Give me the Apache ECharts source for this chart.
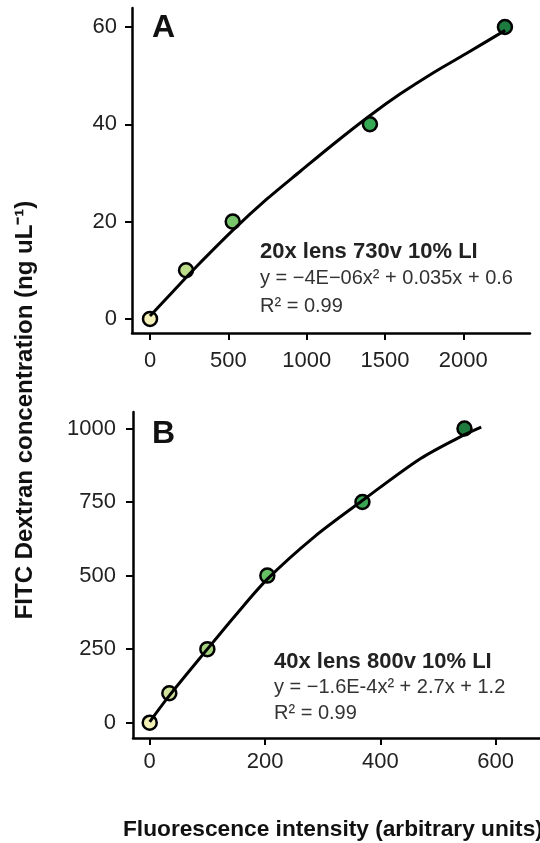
<!DOCTYPE html>
<html>
<head>
<meta charset="utf-8">
<script src="https://cdn.jsdelivr.net/npm/echarts@6/dist/echarts.min.js"></script>
<style>html,body{margin:0;padding:0;background:#fff}#c{width:540px;height:843px}</style>
</head>
<body>
<div id="c"></div>
<script>
// Panel A data
const aX = [0, 230, 528, 1404, 2266];
const aY = [0, 10, 20, 40, 60];
const aCurveX = [0, 230, 319, 528, 745, 958, 1170, 1405, 1596, 1809, 2022, 2267];
const aCurveY = [0.6, 8.5, 11.5, 18.2, 24.6, 30.3, 35.9, 41.8, 46.2, 50.6, 54.6, 59.3];
const aXTicks = [0, 500, 1000, 1500, 2000];
const aYTicks = [0, 20, 40, 60];
// Panel B data
const bX = [0, 34, 100, 204, 369, 546];
const bY = [0, 100, 250, 500, 750, 1000];
const bCurveX = [0, 34, 100, 150, 204, 285, 369, 470, 545, 575];
const bCurveY = [3, 92, 250, 368, 488, 631, 755, 898, 978, 1005];
const bXTicks = [0, 200, 400, 600];
const bYTicks = [0, 250, 500, 750, 1000];
// point fill colours
const aColors = ['#f5f0b8', '#bcdc8a', '#78c56c', '#35a853', '#1e7b40'];
const bColors = ['#f3f0b5', '#d0e29a', '#a6d17e', '#66c064', '#3aa552', '#1f7a3e'];

const FONT = '"Liberation Sans", Arial, sans-serif';
const chart = echarts.init(document.getElementById('c'), null, {renderer: 'canvas'});

function axisCommon(ticks, margin) {
  return {
    type: 'value',
    splitLine: {show: false},
    axisLine: {show: true, onZero: false, lineStyle: {color: '#000', width: 2.5}},
    axisTick: {show: true, inside: false, length: 7, lineStyle: {color: '#000', width: 2}, customValues: ticks},
    axisLabel: {color: '#222', fontSize: 22, fontFamily: FONT, margin: margin, customValues: ticks,
      formatter: v => String(v)}
  };
}

const option = {
  animation: false,
  grid: [
    {left: 132, top: 8, width: 398, height: 325},
    {left: 133, top: 412, width: 420, height: 326}
  ],
  xAxis: [
    Object.assign(axisCommon(aXTicks, 17), {gridIndex: 0, min: -115, max: 2426}),
    Object.assign(axisCommon(bXTicks, 13), {gridIndex: 1, min: -29, max: 677})
  ],
  yAxis: [
    Object.assign(axisCommon(aYTicks, 15), {gridIndex: 0, min: -2.9, max: 63.9}),
    Object.assign(axisCommon(bYTicks, 17), {gridIndex: 1, min: -52, max: 1056})
  ],
  series: [
    {
      type: 'scatter', xAxisIndex: 0, yAxisIndex: 0, symbolSize: 14, z: 2,
      data: aX.map((x, i) => ({value: [x, aY[i]], itemStyle: {color: aColors[i]}})),
      itemStyle: {borderColor: '#000', borderWidth: 2.5, opacity: 1}
    },
    {
      type: 'line', xAxisIndex: 0, yAxisIndex: 0, smooth: 0.3, showSymbol: false, z: 3,
      data: aCurveX.map((x, i) => [x, aCurveY[i]]),
      lineStyle: {color: '#000', width: 3}
    },
    {
      type: 'scatter', xAxisIndex: 1, yAxisIndex: 1, symbolSize: 14, z: 2,
      data: bX.map((x, i) => ({value: [x, bY[i]], itemStyle: {color: bColors[i]}})),
      itemStyle: {borderColor: '#000', borderWidth: 2.5, opacity: 1}
    },
    {
      type: 'line', xAxisIndex: 1, yAxisIndex: 1, smooth: 0.3, showSymbol: false, z: 3,
      data: bCurveX.map((x, i) => [x, bCurveY[i]]),
      lineStyle: {color: '#000', width: 3}
    }
  ],
  graphic: [
    {type: 'text', left: 152, top: 12, style: {text: 'A', font: 'bold 32px ' + FONT, fill: '#111'}},
    {type: 'text', left: 152, top: 418, style: {text: 'B', font: 'bold 32px ' + FONT, fill: '#111'}},
    {type: 'text', x: 260, y: 252, style: {text: '20x lens 730v 10% LI', font: 'bold 22px ' + FONT, fill: '#222', verticalAlign: 'middle'}},
    {type: 'text', x: 260, y: 278, style: {text: 'y = \u22124E\u221206x\u00b2 + 0.035x + 0.6', font: '20px ' + FONT, fill: '#333', verticalAlign: 'middle'}},
    {type: 'text', x: 260, y: 306, style: {text: 'R\u00b2 = 0.99', font: '20px ' + FONT, fill: '#333', verticalAlign: 'middle'}},
    {type: 'text', x: 274, y: 662, style: {text: '40x lens 800v 10% LI', font: 'bold 22px ' + FONT, fill: '#222', verticalAlign: 'middle'}},
    {type: 'text', x: 274, y: 687, style: {text: 'y = \u22121.6E-4x\u00b2 + 2.7x + 1.2', font: '20px ' + FONT, fill: '#333', verticalAlign: 'middle'}},
    {type: 'text', x: 274, y: 713, style: {text: 'R\u00b2 = 0.99', font: '20px ' + FONT, fill: '#333', verticalAlign: 'middle'}},
    {type: 'text', x: 25, y: 410, rotation: Math.PI / 2, style: {text: 'FITC Dextran concentration (ng uL\u207b\u00b9)', font: 'bold 24px ' + FONT, fill: '#111', align: 'center', verticalAlign: 'middle'}},
    {type: 'text', x: 123, y: 830, style: {text: 'Fluorescence intensity (arbitrary units)', font: 'bold 22.7px ' + FONT, fill: '#111', verticalAlign: 'middle'}}
  ]
};
chart.setOption(option);
</script>
</body>
</html>
